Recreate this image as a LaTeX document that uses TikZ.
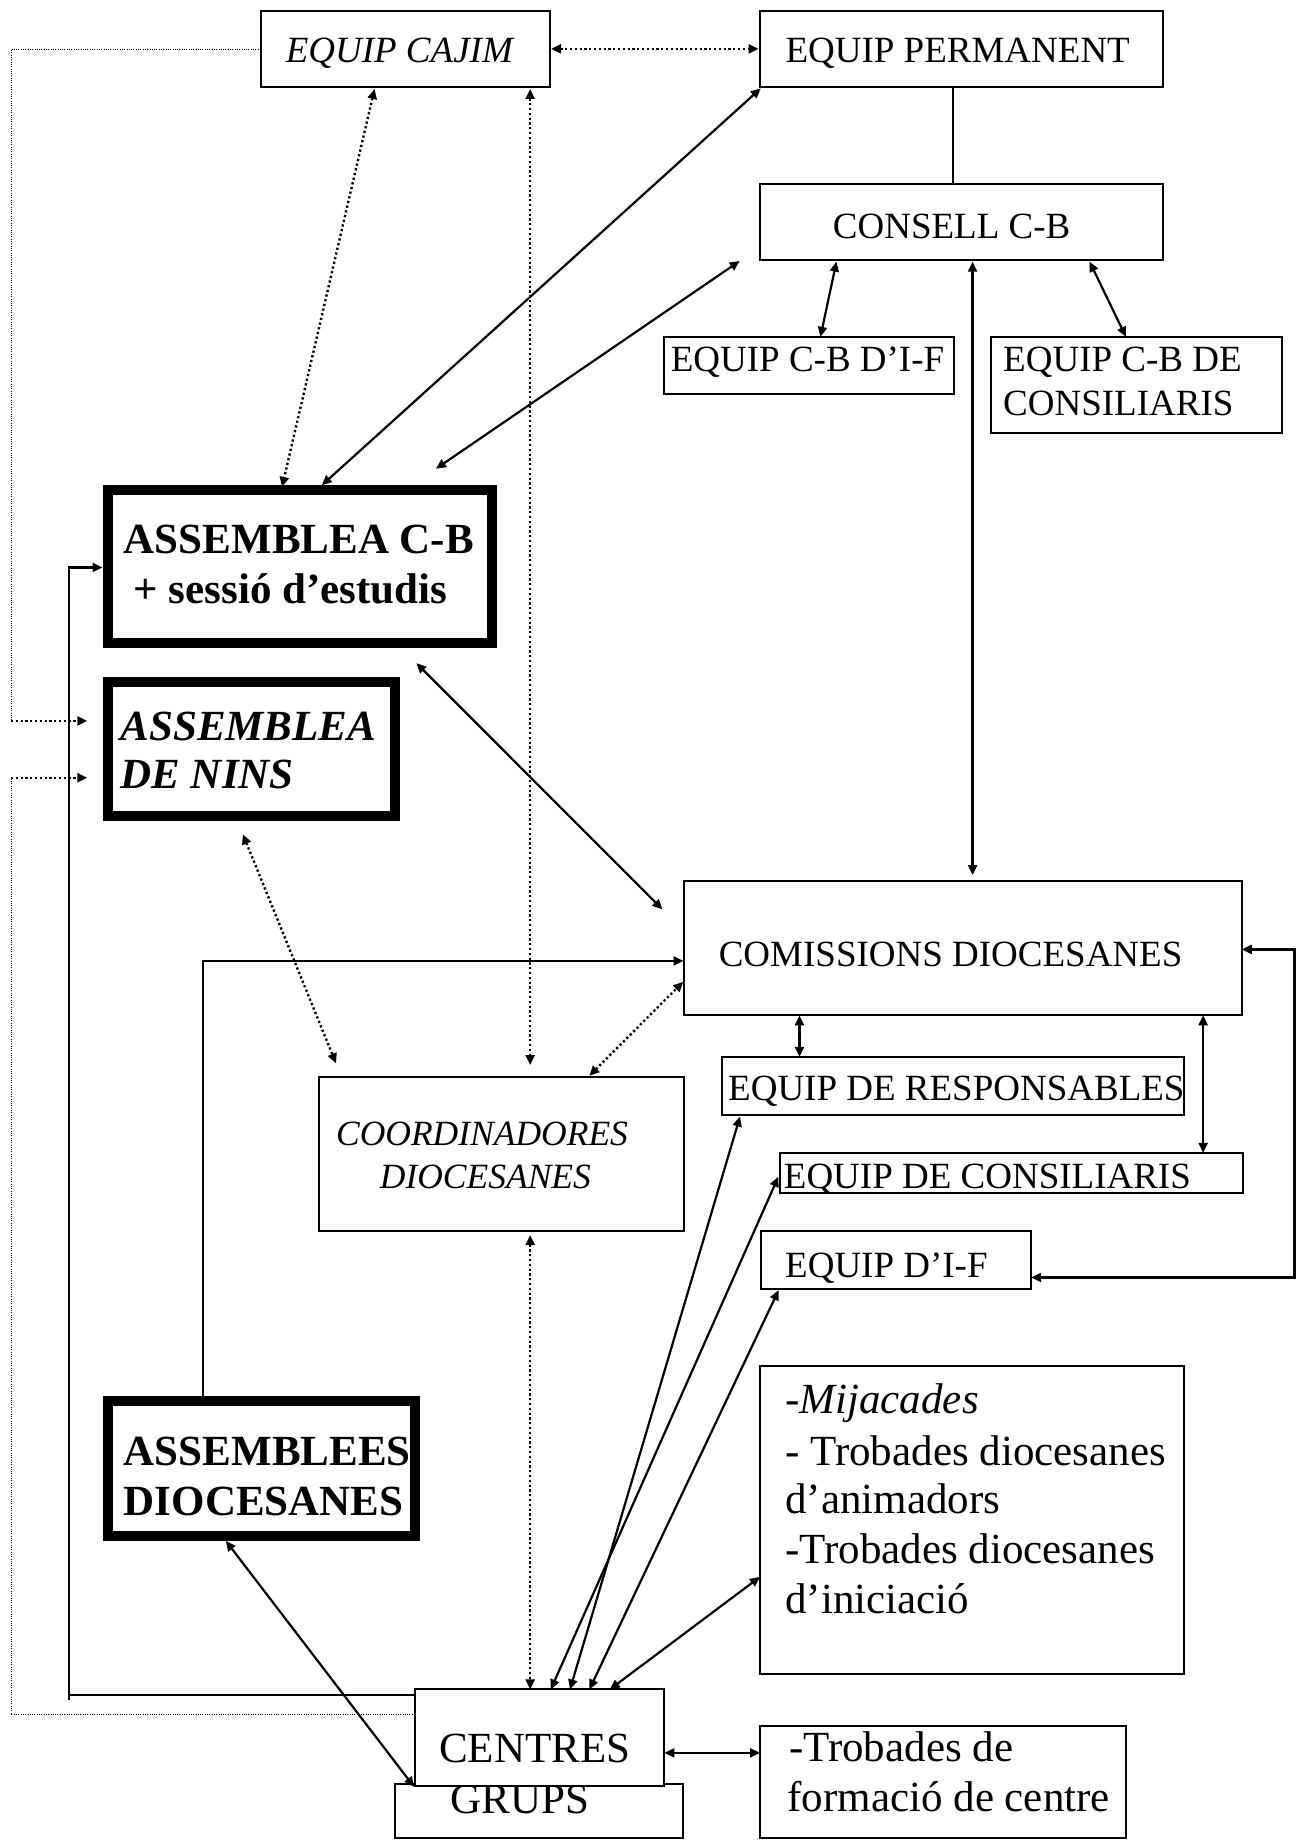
\documentclass[tikz,border=0pt]{standalone}
\usepackage{fontspec}
\setmainfont{Liberation Serif}
\usetikzlibrary{arrows.meta,fit}
\newcommand{\fn}{\fontsize{37}{43}\selectfont}
\newcommand{\fb}{\fontsize{43}{50}\selectfont}
\newcommand{\fc}{\fontsize{35.5}{43}\selectfont}
\tikzset{
  bx/.style={draw, line width=2pt, fill=white, inner sep=0pt},
  thk/.style={draw, line width=10pt, fill=white, inner sep=0pt},
  tx/.style={anchor=base west, inner sep=0pt, font=\fn},
  tb/.style={anchor=base west, inner sep=0pt, font=\fb},
  ln/.style={line width=2.2pt},
  ar/.style={line width=2.2pt, <->},
  dar/.style={line width=2.4pt, dash pattern=on 2.2pt off 2.6pt, <->},
  dar1/.style={line width=2.4pt, dash pattern=on 2.2pt off 2.6pt, ->},
  thd/.style={line width=0.9pt, dash pattern=on 1pt off 1.3pt}
}
\begin{document}
\begin{tikzpicture}[x=1.1703pt, y=-1.1703pt, >={Triangle[length=10pt,width=9pt]}]
\useasboundingbox (0,0) rectangle (1110,1573);
\fill[white] (0,0) rectangle (1110,1573);

% ---------- boxes ----------
\node[bx, fit={(223,9) (470,74.5)}] (cajim) {};
\node[bx, fit={(649,9) (994,74.5)}] (perm) {};
\node[bx, fit={(649,157) (994,222)}] (consell) {};
\node[bx, fit={(567,288) (815,337)}] (cbif) {};
\node[bx, fit={(847,288) (1095,370)}] (cbcons) {};
\node[thk, fit={(92,419) (420.4,549.7)}] (asscb) {};
\node[thk, fit={(92,583) (337.7,697)}] (nins) {};
\node[bx, fit={(584,753) (1061,867.5)}] (comis) {};
\node[bx, fit={(617,903) (1012,952.5)}] (resp) {};
\node[bx, fit={(666.5,985) (1062,1019)}] (econs) {};
\node[bx, fit={(650,1052) (881,1101)}] (eif) {};
\node[bx, fit={(272.3,920) (584,1051.6)}] (coord) {};
\node[thk, fit={(92,1197.3) (354.7,1312.3)}] (assdio) {};
\node[bx, fit={(649.4,1167.3) (1012,1430)}] (mija) {};
\node[bx, fit={(649.4,1475) (962.4,1570.5)}] (trob) {};
\node[bx, fit={(337.5,1524) (583.8,1570.5)}] (grups) {};
\node[tb] (tgrups) at (384.7,1549.5) {GRUPS};
\node[bx, fit={(354.6,1443.5) (567.7,1526)}] (centres) {};

% ---------- texts ----------
\node[tx, font={\fn\itshape}] (tcajim) at (244,53.5) {EQUIP CAJIM};
\node[tx] (tperm) at (671,53.5) {EQUIP PERMANENT};
\node[tx] (tcons) at (711.5,203.6) {CONSELL C-B};
\node[tx] (tcbif) at (573,317.6) {EQUIP C-B D’I-F};
\node[tx] (tcbc1) at (857,317.6) {EQUIP C-B DE};
\node[tx] (tcbc2) at (857,354.6) {CONSILIARIS};
\node[tb, font={\fb\bfseries}] (tas1) at (105.7,472.8) {ASSEMBLEA C-B};
\node[tb, font={\fb\bfseries}] (tas2) at (114,515.5) {+ sessió d’estudis};
\node[tb, font={\fb\bfseries\itshape}] (tni1) at (102.8,632.3) {ASSEMBLEA};
\node[tb, font={\fb\bfseries\itshape}] (tni2) at (102.8,673.6) {DE NINS};
\node[tx] (tcomis) at (614,826) {COMISSIONS DIOCESANES};
\node[tx] (tresp) at (622,940) {EQUIP DE RESPONSABLES};
\node[tx] (tecons) at (669.6,1015.4) {EQUIP DE CONSILIARIS};
\node[tx] (teif) at (670.7,1091.5) {EQUIP D’I-F};
\node[tx, font={\fc\itshape}] (tco1) at (287,978.4) {COORDINADORES};
\node[tx, font={\fc\itshape}] (tco2) at (324.4,1015.4) {DIOCESANES};
\node[tb, font={\fb\bfseries}] (tad1) at (105.7,1251.8) {ASSEMBLEES};
\node[tb, font={\fb\bfseries}] (tad2) at (105.7,1294.6) {DIOCESANES};
\node[tb] (tcentres) at (375,1506.2) {CENTRES};
\node[tb, font={\fb\itshape}] (tm1) at (670.8,1207.7) {-Mijacades};
\node[tb] (tm2) at (670.8,1251.8) {- Trobades diocesanes};
\node[tb] (tm3) at (670.8,1293.2) {d’animadors};
\node[tb] (tm4) at (670.8,1335.9) {-Trobades diocesanes};
\node[tb] (tm5) at (670.8,1378.6) {d’iniciació};
\node[tb] (tt1) at (674,1505.4) {-Trobades de};
\node[tb] (tt2) at (672.7,1548.1) {formació de centre};

% ---------- connector end points ----------
\coordinate (pc1) at (814.3,74.5);   \coordinate (pc2) at (814.3,157);
\coordinate (cc1) at (831,223.6);    \coordinate (cc2) at (831,747.7);
\coordinate (ci1) at (714.7,223.6);  \coordinate (ci2) at (701,287.8);
\coordinate (cs1) at (931,223.6);    \coordinate (cs2) at (962,287.8);
\coordinate (ap1) at (275,414.6);    \coordinate (ap2) at (650,75.5);
\coordinate (ak1) at (372.5,400.5);  \coordinate (ak2) at (632,223);
\coordinate (am1) at (355.8,566.6);  \coordinate (am2) at (566,777);
\coordinate (ja1) at (320,76);       \coordinate (ja2) at (241,416);
\coordinate (jc1) at (453,76);       \coordinate (jc2) at (453,910);
\coordinate (kc1) at (453,1055.3);   \coordinate (kc2) at (453,1443.5);
\coordinate (nc1) at (207.5,712.8);  \coordinate (nc2) at (287.1,908.6);
\coordinate (cm1) at (503.5,919.2);  \coordinate (cm2) at (583.8,838.8);
\coordinate (dd1) at (173.7,1193);   \coordinate (dd2) at (173.7,821);  \coordinate (dd3) at (584,821);
\coordinate (cr1) at (683.1,867.5);  \coordinate (cr2) at (683.1,903);
\coordinate (ce1) at (1028,867.5);   \coordinate (ce2) at (1028,985);
\coordinate (ef1) at (881,1091.5);   \coordinate (ef2) at (1106,1091.5);
\coordinate (ef3) at (1106,811.2);   \coordinate (ef4) at (1061,811.2);
\coordinate (g1) at (470.6,1443.5);  \coordinate (g1e) at (665,1005.5);
\coordinate (g2) at (487,1443.5);    \coordinate (g2e) at (632.3,954);
\coordinate (g3) at (503.6,1443.5);  \coordinate (g3e) at (665.3,1102.3);
\coordinate (g4) at (521,1443.5);    \coordinate (g4e) at (649.4,1347.3);
\coordinate (gd1) at (193,1316.6);   \coordinate (gd2) at (353.8,1526.7);
\coordinate (tr1) at (567.7,1497.7); \coordinate (tr2) at (649.4,1497.7);
\coordinate (sl1) at (354.6,1448.4); \coordinate (sl2) at (59,1448.4);
\coordinate (sl0) at (59,1452.7);    \coordinate (sl3) at (59,484.8);   \coordinate (sl4) at (87.6,484.8);
\coordinate (lp1) at (223,42.2);     \coordinate (lp2) at (9.4,42.2);
\coordinate (lp3) at (9.4,616);      \coordinate (lp4) at (74.6,616);
\coordinate (lq1) at (354.6,1464.9); \coordinate (lq2) at (9.4,1464.9);
\coordinate (lq3) at (9.4,664.5);    \coordinate (lq4) at (74.6,664.5);

% ---------- connectors ----------
\draw[dar] (cajim.east) -- (perm.west);
\draw[ln] (pc1) -- (pc2);
\draw[ar] (cc1) -- (cc2);
\draw[ar] (ci1) -- (ci2);
\draw[ar] (cs1) -- (cs2);
\draw[ar] (ap1) -- (ap2);
\draw[ar] (ak1) -- (ak2);
\draw[ar] (am1) -- (am2);
\draw[dar] (ja1) -- (ja2);
\draw[dar] (jc1) -- (jc2);
\draw[dar] (kc1) -- (kc2);
\draw[dar] (nc1) -- (nc2);
\draw[dar] (cm1) -- (cm2);
\draw[ln, ->] (dd1) -- (dd2) -- (dd3);
\draw[ar] (cr1) -- (cr2);
\draw[ar] (ce1) -- (ce2);
\draw[ar] (ef1) -- (ef2) -- (ef3) -- (ef4);
\draw[ar] (g1) -- (g1e);
\draw[ar] (g2) -- (g2e);
\draw[ar] (g3) -- (g3e);
\draw[ar] (g4) -- (g4e);
\draw[ar] (gd1) -- (gd2);
\draw[ar] (tr1) -- (tr2);
\draw[ln] (sl1) -- (sl2);
\draw[ln, ->] (sl0) -- (sl3) -- (sl4);
\draw[thd] (lp1) -- (lp2) -- (lp3);
\draw[dar1] (lp3) -- (lp4);
\draw[thd] (lq1) -- (lq2) -- (lq3);
\draw[dar1] (lq3) -- (lq4);
\end{tikzpicture}
\end{document}
